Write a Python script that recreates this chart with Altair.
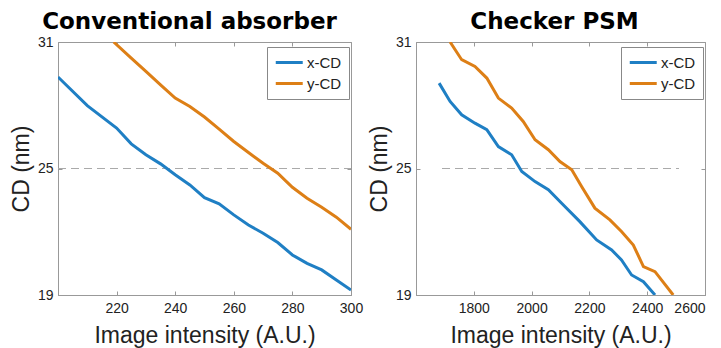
import altair as alt
import pandas as pd

# Conventional absorber
conv_x = [200, 210, 220, 225, 230, 235, 240, 245, 250, 255, 260, 265, 270, 275, 280, 285, 290, 295, 300]
conv_xcd = [29.34, 27.98, 26.92, 26.17, 25.65, 25.22, 24.70, 24.22, 23.62, 23.32, 22.80, 22.32, 21.93, 21.49, 20.90, 20.50, 20.19, 19.71, 19.24]
conv_xy = [219, 225, 230, 235, 240, 245, 250, 255, 260, 265, 270, 275, 280, 285, 290, 295, 300]
conv_ycd = [31.0, 30.24, 29.61, 28.97, 28.34, 27.94, 27.44, 26.87, 26.28, 25.76, 25.25, 24.78, 24.11, 23.59, 23.16, 22.69, 22.12]

# Checker PSM
psm_xx = [1680, 1718, 1758, 1804, 1845, 1885, 1931, 1966, 2012, 2058, 2104, 2167, 2225, 2277, 2311, 2346, 2387, 2427]
psm_xcd = [29.05, 28.18, 27.55, 27.15, 26.84, 26.04, 25.65, 24.86, 24.38, 23.99, 23.35, 22.48, 21.61, 21.14, 20.66, 19.95, 19.63, 19.0]
psm_yx = [1718, 1758, 1804, 1845, 1885, 1931, 1971, 2012, 2058, 2098, 2139, 2173, 2219, 2271, 2311, 2352, 2387, 2427, 2490]
psm_ycd = [31.0, 30.16, 29.84, 29.29, 28.34, 27.87, 27.23, 26.36, 25.89, 25.33, 24.94, 24.15, 23.12, 22.56, 22.01, 21.37, 20.35, 20.11, 19.0]

series = ["x-CD", "y-CD"]
colors = ["#1f7fc4", "#dd7f16"]
target_cd = 25
conv_ref_x = [200, 300]
psm_ref_x = [1690, 2510]

conv_xticks = [220, 240, 260, 280, 300]
psm_xticks = [1800, 2000, 2200, 2400, 2600]
y_ticks = [19, 25, 31]

FONT = "Liberation Sans"
GRAY = "#999"


def make_df(xa, ya, xb, yb):
    rows = [{"x": a, "y": b, "s": series[0], "o": i} for i, (a, b) in enumerate(zip(xa, ya))]
    rows += [{"x": a, "y": b, "s": series[1], "o": i} for i, (a, b) in enumerate(zip(xb, yb))]
    return pd.DataFrame(rows)


def tick_axis(values, orient):
    return alt.Axis(values=values, orient=orient, offset=-4, tickSize=4, tickColor=GRAY,
                    labels=False, domain=False, title=None, grid=False)


def panel(title, df, xdom, xticks, refx, w, title_dx, flush):
    xs = alt.Scale(domain=xdom, nice=False, zero=False)
    ys = alt.Scale(domain=[19, 31], nice=False, zero=False)
    lines = alt.Chart(df).mark_line(strokeWidth=3, clip=True).encode(
        x=alt.X("x:Q", scale=xs, axis=alt.Axis(
            values=xticks, format="d", orient="bottom", title="Image intensity (A.U.)", titleFontSize=23,
            titleFontWeight="normal", titleColor="#222", labelFontSize=14, labelColor="#222",
            labelFlush=flush, labelOverlap=False,
            ticks=False, labelPadding=6, titlePadding=9, grid=False, domainColor=GRAY)),
        y=alt.Y("y:Q", scale=ys, axis=alt.Axis(
            values=y_ticks, orient="left", title="CD (nm)", titleFontSize=23, titleFontWeight="normal",
            titleColor="#222", labelFontSize=14, labelColor="#222", ticks=False, labelFlush=False,
            labelPadding=5, titlePadding=4, grid=False, domainColor=GRAY)),
        color=alt.Color("s:N", scale=alt.Scale(domain=series, range=colors),
                        legend=alt.Legend(title=None, orient="none", legendX=w - 84, legendY=5,
                                          strokeColor="#888", fillColor="white",
                                          padding=7, symbolType="M-1,0H3", symbolSize=182,
                                          symbolStrokeWidth=3, labelFontSize=15,
                                          labelColor="#222", rowPadding=4, labelOffset=16)),
        order="o:Q",
    )
    ref = alt.Chart(pd.DataFrame({"x": [refx[0]], "x2": [refx[1]], "y": [target_cd]})).mark_rule(
        color="#aaa", strokeDash=[8, 5], strokeWidth=1.2).encode(
        x=alt.X("x:Q", scale=xs, axis=tick_axis(xticks, "bottom")), x2="x2:Q",
        y=alt.Y("y:Q", scale=ys, axis=tick_axis(y_ticks, "left")))
    dummy = alt.Chart(pd.DataFrame({"x": [refx[0]], "y": [target_cd]})).mark_point(opacity=0).encode(
        x=alt.X("x:Q", scale=xs, axis=tick_axis(xticks, "top")),
        y=alt.Y("y:Q", scale=ys, axis=tick_axis(y_ticks, "right")))
    return alt.layer(ref, dummy, lines).resolve_axis(x="independent", y="independent").properties(
        width=w, height=253,
        title=alt.TitleParams(title, fontSize=23, fontWeight="bold", font="DejaVu Sans", color="black",
                              offset=1, dx=title_dx),
    )


left = panel("Conventional absorber", make_df(conv_x, conv_xcd, conv_xy, conv_ycd), [200, 300], conv_xticks, conv_ref_x, 293, -15, False)
right = panel("Checker PSM", make_df(psm_xx, psm_xcd, psm_yx, psm_ycd), [1600, 2600], psm_xticks, psm_ref_x, 289, -6, True)

chart = alt.hconcat(left, right, spacing=3).resolve_legend(color="independent").properties(
    padding={"left": 1, "top": 2, "right": 0, "bottom": 0}
).configure(font=FONT).configure_view(stroke=GRAY, strokeWidth=1)

chart.save("out.html", embed_options={"renderer": "svg", "actions": False})
